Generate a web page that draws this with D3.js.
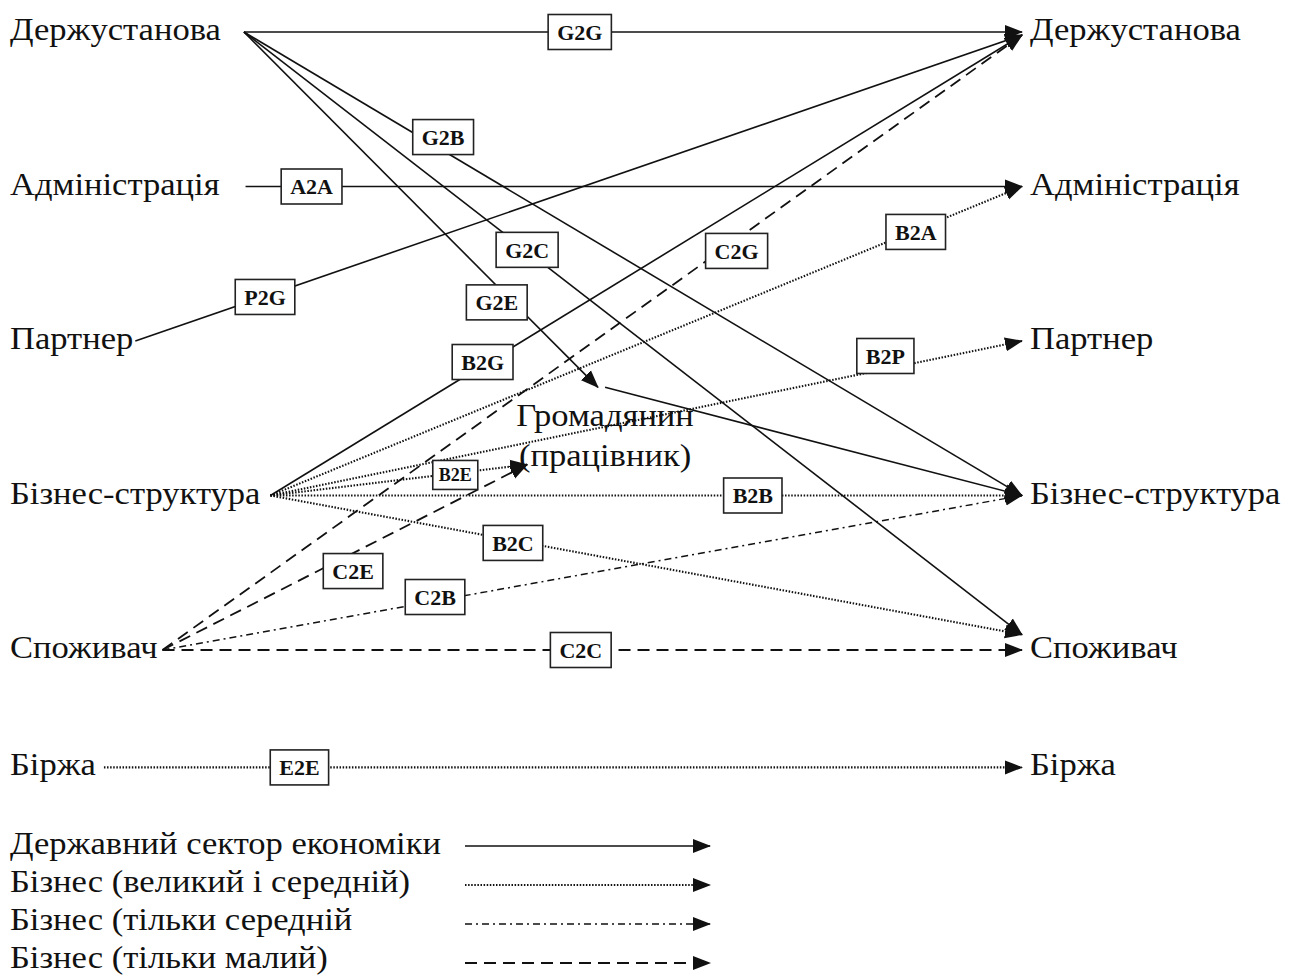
<!DOCTYPE html>
<html>
<head>
<meta charset="utf-8">
<script src="https://cdn.jsdelivr.net/npm/d3@7"></script>
<style>
  body { margin: 0; background: #fff; }
  text { font-family: "Liberation Serif", "Times New Roman", serif; fill: #111; }
</style>
</head>
<body>
<div id="chart"></div>
<script>
const WD = 1291, HT = 975
const FONT = 32, STRETCH = 1.08   // the source type is a bit wider than Liberation Serif

// actors on both sides (one row each)
const actors   = ["Держустанова", "Адміністрація", "Партнер", "Бізнес-структура", "Споживач", "Біржа"]
const actorRow = [0, 1, 2, 3, 4, 4.76]
const startGap = [23, 26, 2, 10, 5, 8]   // gap between left label and where lines start

const citizen = ["Громадянин", "(працівник)"]

// links: code, from, to, sector
const linkCodes  = ["G2G", "G2B", "G2C", "G2E", "A2A", "P2G", "B2G", "B2A", "B2P", "B2E", "B2B", "B2C", "C2G", "C2E", "C2B", "C2C", "E2E", ""]
const linkFrom   = ["Держустанова", "Держустанова", "Держустанова", "Держустанова", "Адміністрація", "Партнер",
                    "Бізнес-структура", "Бізнес-структура", "Бізнес-структура", "Бізнес-структура", "Бізнес-структура", "Бізнес-структура",
                    "Споживач", "Споживач", "Споживач", "Споживач", "Біржа", "Громадянин"]
const linkTo     = ["Держустанова", "Бізнес-структура", "Споживач", "Громадянин", "Адміністрація", "Держустанова",
                    "Держустанова", "Адміністрація", "Партнер", "Громадянин*", "Бізнес-структура", "Споживач",
                    "Держустанова", "Громадянин*", "Бізнес-структура", "Споживач", "Біржа", "Бізнес-структура"]
const linkSector = [0, 0, 0, 0, 0, 0, 0, 1, 1, 1, 1, 1, 3, 3, 2, 3, 1, 0]
// arrow tip row (several arrows meet a little above the label line)
const linkToRow  = [0, 3, 3.9, 2.3, 1, 0.02, 0.02, 1, 2, 2.8, 3, 3.9, 0.02, 2.8, 3, 4, 4.76, 3]
// label boxes: x in 0..1 across, y in row units
const boxX   = [0.563, 0.428, 0.511, 0.481, 0.298, 0.252, 0.467, 0.895, 0.865, 0.44, 0.734, 0.497, 0.718, 0.339, 0.42, 0.564, 0.286]
const boxRow = [0, 0.68, 1.41, 1.75, 1, 1.715, 2.136, 1.294, 2.097, 2.867, 3, 3.307, 1.417, 3.489, 3.657, 4, 4.76]

// citizen node anchors (x 0..1, row units)
const citizenTop  = [0.581, 2.3]
const citizenOut  = [0.588, 2.3]
const citizenSide = [0.511, 2.8]
const citizenText = [0.588, 2.49, 2.75]

// legend
const sectors     = ["Державний сектор економіки", "Бізнес (великий і середній)", "Бізнес (тільки середній", "Бізнес (тільки малий)"]
const sectorDash  = [null, "1.5,1.6", "7,4,2,4", "12,7"]
const sectorWidth = [1.6, 2.1, 1.5, 1.8]

const x = d3.scaleLinear().domain([0, 1]).range([10, 1022])
const y = d3.scaleLinear().domain([0, 4]).range([32, 650])
const yLegend = d3.scaleLinear().domain([0, 3]).range([846, 963])
const yLegendText = d3.scaleLinear().domain([0, 3]).range([846, 960])

const svg = d3.select("#chart").append("svg")
    .attr("width", WD)
    .attr("height", HT)

svg.append("defs").append("marker")
    .attr("id", "tip")
    .attr("markerUnits", "userSpaceOnUse")
    .attr("viewBox", "0 -8 18 16")
    .attr("refX", 17)
    .attr("refY", 0)
    .attr("markerWidth", 18)
    .attr("markerHeight", 16)
    .attr("orient", "auto")
  .append("path")
    .attr("d", "M0,-7L18,0L0,7Z")
    .attr("fill", "#111")

const lineG = svg.append("g")
const boxG = svg.append("g")
const textG = svg.append("g")

function place(px, py) {
  return "translate(" + px + "," + py + ") scale(" + STRETCH + ",1)"
}

// left labels
const leftLabels = textG.selectAll(".left")
  .data(actors)
  .enter().append("text")
    .attr("class", "left")
    .attr("transform", (d, i) => place(x(0), y(actorRow[i])))
    .attr("dy", "0.25em")
    .attr("font-size", FONT + "px")
    .text(d => d)

const leftEnd = {}
leftLabels.each(function(d, i) {
  leftEnd[d] = x(0) + this.getComputedTextLength() * STRETCH + startGap[i]
})

// right labels
textG.selectAll(".right")
  .data(actors)
  .enter().append("text")
    .attr("class", "right")
    .attr("transform", (d, i) => place(x(1) + 8, y(actorRow[i])))
    .attr("dy", "0.25em")
    .attr("font-size", FONT + "px")
    .text(d => d)

// citizen
textG.selectAll(".citizen")
  .data(citizen)
  .enter().append("text")
    .attr("class", "citizen")
    .attr("transform", (d, i) => place(x(citizenText[0]), y(citizenText[i + 1])))
    .attr("dy", "0.3em")
    .attr("text-anchor", "middle")
    .attr("font-size", FONT + "px")
    .attr("fill", "#333")
    .text(d => d)

function startPoint(name) {
  if (name === "Громадянин") return [x(citizenOut[0]), y(citizenOut[1])]
  const i = actors.indexOf(name)
  return [leftEnd[name], y(actorRow[i])]
}
function endPoint(name, i) {
  if (name === "Громадянин") return [x(citizenTop[0]), y(citizenTop[1])]
  if (name === "Громадянин*") return [x(citizenSide[0]), y(citizenSide[1])]
  return [x(1), y(linkToRow[i])]
}

const links = linkCodes.map((c, i) => ({
  code: c,
  s: startPoint(linkFrom[i]),
  t: endPoint(linkTo[i], i),
  sector: linkSector[i]
}))

lineG.selectAll("line")
  .data(links)
  .enter().append("line")
    .attr("x1", d => d.s[0])
    .attr("y1", d => d.s[1])
    .attr("x2", d => d.t[0])
    .attr("y2", d => d.t[1])
    .attr("stroke", "#111")
    .attr("stroke-width", d => sectorWidth[d.sector])
    .attr("stroke-dasharray", d => sectorDash[d.sector])
    .attr("marker-end", "url(#tip)")

// label boxes
const boxes = boxG.selectAll("g")
  .data(links.filter(d => d.code))
  .enter().append("g")
    .attr("transform", (d, i) => "translate(" + x(boxX[i]) + "," + y(boxRow[i]) + ")")

boxes.append("text")
    .attr("text-anchor", "middle")
    .attr("dy", "0.35em")
    .attr("font-weight", "bold")
    .attr("font-size", d => d.code === "B2E" ? "18px" : "22px")
    .text(d => d.code)

boxes.insert("rect", "text")
    .attr("fill", "#fff")
    .attr("stroke", "#222")
    .attr("stroke-width", 1.6)
    .each(function(d) {
      const tw = this.parentNode.querySelector("text").getComputedTextLength()
      const small = d.code === "B2E"
      const w = tw + (small ? 12 : 18), h = small ? 29 : 35
      d3.select(this).attr("x", -w / 2).attr("y", -h / 2).attr("width", w).attr("height", h)
    })

// legend
const legend = svg.append("g").selectAll("g")
  .data(sectors)
  .enter().append("g")

legend.append("text")
    .attr("transform", (d, i) => place(x(0), yLegendText(i)))
    .attr("dy", "0.25em")
    .attr("font-size", FONT + "px")
    .text(d => d)

legend.append("line")
    .attr("x1", 465)
    .attr("x2", 710)
    .attr("y1", (d, i) => yLegend(i))
    .attr("y2", (d, i) => yLegend(i))
    .attr("stroke", "#111")
    .attr("stroke-width", (d, i) => sectorWidth[i])
    .attr("stroke-dasharray", (d, i) => sectorDash[i])
    .attr("marker-end", "url(#tip)")
</script>
</body>
</html>
